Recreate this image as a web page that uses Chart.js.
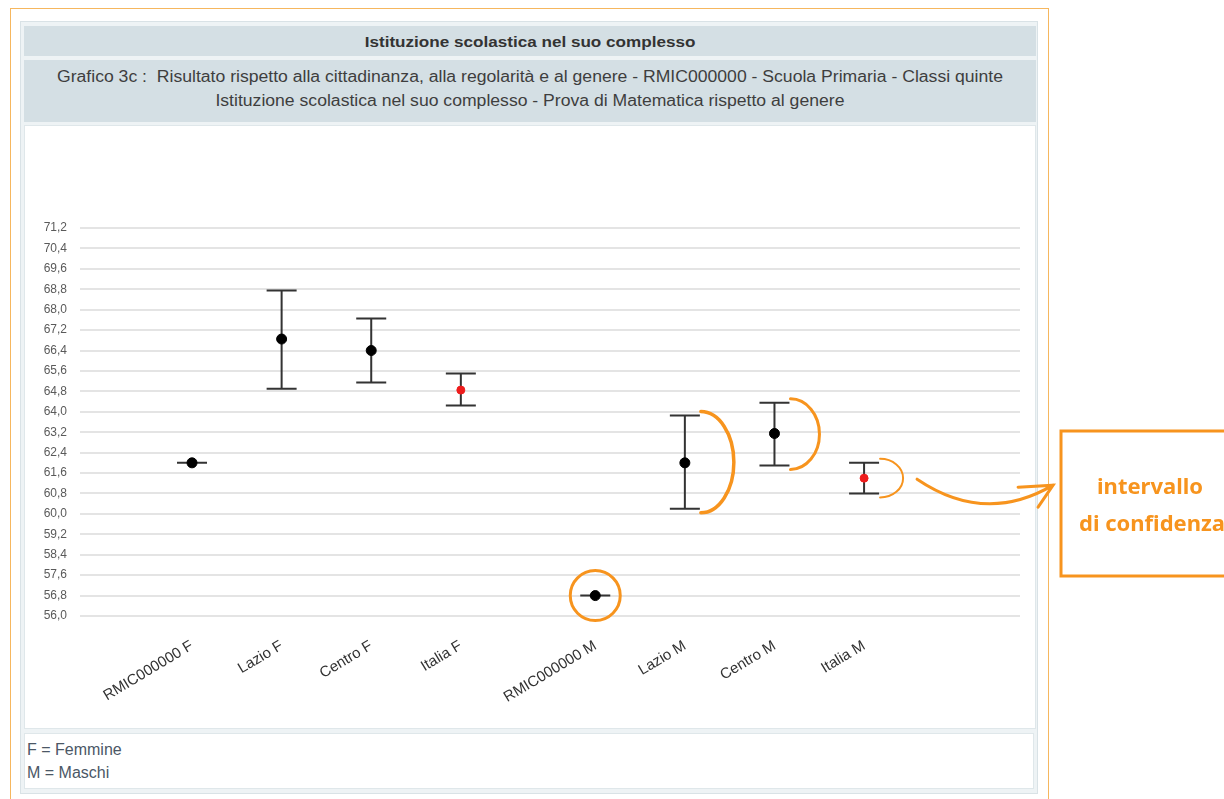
<!DOCTYPE html>
<html>
<head>
<meta charset="utf-8">
<script src="https://cdn.jsdelivr.net/npm/chart.js@4.4.1/dist/chart.umd.min.js"></script>
<style>
  body { margin: 0; background: #fff; font-family: "Liberation Sans", Arial, sans-serif; }
  .frame { position: absolute; left: 10px; top: 8px; width: 1037px; height: 830px; border: 1px solid #f6b75e; }
  .panel { position: absolute; left: 20px; top: 21px; width: 1016px; height: 771px; border: 1px solid #d9e2e6; background: #eef3f5; }
  .head1 { position: absolute; left: 24px; top: 26px; width: 1012px; height: 30px; background: #d4dfe4;
           font-weight: bold; font-size: 15px; color: #333; text-align: center; line-height: 31px; }
  .head2 { position: absolute; left: 24px; top: 60px; width: 1012px; height: 62px; background: #d4dfe4;
           font-size: 16px; color: #3e3e3e; text-align: center; line-height: 24px; padding-top: 5px; box-sizing: border-box; }
  .head1 span, .head2 span { display: inline-block; }
  .head1 span { transform: scaleX(1.14); }
  .head2 span { transform: scaleX(1.1); }
  .plot { position: absolute; left: 24px; top: 125px; width: 1010px; height: 602px; background: #fff; border: 1px solid #dfe7ea; }
  .note { position: absolute; left: 24px; top: 733px; width: 1010px; height: 56px; background: #fff; border: 1px solid #dfe7ea;
          font-size: 16px; color: #4b5766; line-height: 23px; padding: 4px 0 0 2px; box-sizing: border-box; }
  #chart { position: absolute; left: 0; top: 0; }
</style>
</head>
<body>
<div class="frame"></div>
<div class="panel"></div>
<div class="head1"><span>Istituzione scolastica nel suo complesso</span></div>
<div class="head2"><span>Grafico 3c :&nbsp; Risultato rispetto alla cittadinanza, alla regolarità e al genere - RMIC000000 - Scuola Primaria - Classi quinte</span><br><span>Istituzione scolastica nel suo complesso - Prova di Matematica rispetto al genere</span></div>
<div class="plot"></div>
<div class="note">F = Femmine<br>M = Maschi</div>
<canvas id="chart" width="1224" height="799"></canvas>
<script>
// categories and groups (F / M, drawn with a half-step gap between the groups)
const categories = ['RMIC000000 F', 'Lazio F', 'Centro F', 'Italia F', 'RMIC000000 M', 'Lazio M', 'Centro M', 'Italia M'];
const groups = ['F', 'F', 'F', 'F', 'M', 'M', 'M', 'M'];

// mean score and confidence interval
const means = [62.0, 66.85, 66.4, 64.85, 56.8, 62.0, 63.15, 61.4];
const lows  = [62.0, 64.9, 65.15, 64.25, 56.8, 60.2, 61.9, 60.8];
const highs = [62.0, 68.75, 67.65, 65.5, 56.8, 63.85, 64.35, 62.0];

// Italia reference points are drawn in red
const isItaly = categories.map(c => c.startsWith('Italia'));

const yMin = 56.0, yMax = 71.2, yStep = 0.8;

const ORANGE = '#f7941e';
const xPos = categories.map((c, i) => i + (groups[i] === 'M' ? 0.5 : 0));

// vertical error bars with caps
const errorBars = {
  id: 'errorBars',
  beforeDatasetsDraw(chart) {
    const { ctx, scales: { x, y } } = chart;
    ctx.save();
    ctx.strokeStyle = '#333';
    ctx.lineWidth = 2;
    xPos.forEach((v, i) => {
      const px = x.getPixelForValue(v);
      const yh = y.getPixelForValue(highs[i]);
      const yl = y.getPixelForValue(lows[i]);
      ctx.beginPath();
      ctx.moveTo(px, yh); ctx.lineTo(px, yl);
      ctx.moveTo(px - 15, yh); ctx.lineTo(px + 15, yh);
      ctx.moveTo(px - 15, yl); ctx.lineTo(px + 15, yl);
      ctx.stroke();
    });
    ctx.restore();
  }
};

// orange hand-drawn style annotations
const annotations = {
  id: 'annotations',
  afterDraw(chart) {
    const { ctx, scales: { x, y } } = chart;
    ctx.save();
    ctx.strokeStyle = ORANGE;
    ctx.lineCap = 'round';

    // circle on the school M point
    ctx.lineWidth = 3;
    ctx.beginPath();
    ctx.arc(x.getPixelForValue(xPos[4]), y.getPixelForValue(means[4]), 25, 0, Math.PI * 2);
    ctx.stroke();

    // brackets on the right of the intervals
    [[5, 33, 3.5], [6, 29, 3], [7, 23, 2]].forEach(([i, rx, lw]) => {
      const px = x.getPixelForValue(xPos[i]) + 16;
      const yh = y.getPixelForValue(highs[i]) - 4;
      const yl = y.getPixelForValue(lows[i]) + 4;
      ctx.lineWidth = lw;
      ctx.beginPath();
      ctx.ellipse(px, (yh + yl) / 2, rx, (yl - yh) / 2, 0, -Math.PI / 2, Math.PI / 2);
      ctx.stroke();
    });

    // arrow towards the box
    const ax = x.getPixelForValue(xPos[7]) + 53;
    const ay = y.getPixelForValue(means[7]) + 1;
    ctx.lineWidth = 3;
    ctx.beginPath();
    ctx.moveTo(ax, ay);
    ctx.quadraticCurveTo(ax + 68, ay + 46, ax + 136, ay + 6);
    ctx.moveTo(ax + 101, ay + 8);
    ctx.lineTo(ax + 136, ay + 6);
    ctx.lineTo(ax + 121, ay + 28);
    ctx.stroke();

    // box with label
    ctx.lineWidth = 3;
    ctx.strokeRect(1061, 431, 200, 145);
    ctx.fillStyle = ORANGE;
    ctx.font = 'bold 22px "Noto Sans", sans-serif';
    ctx.textAlign = 'center';
    ctx.fillText('intervallo', 1150, 494);
    ctx.fillText('di confidenza', 1152, 531);
    ctx.restore();
  }
};

Chart.defaults.font.family = '"Liberation Sans", Arial, sans-serif';

new Chart(document.getElementById('chart'), {
  type: 'scatter',
  data: {
    datasets: [{
      data: categories.map((c, i) => ({ x: xPos[i], y: means[i] })),
      pointBackgroundColor: isItaly.map(r => r ? '#ee1c1c' : '#000'),
      pointBorderColor: isItaly.map(r => r ? '#ee1c1c' : '#000'),
      pointRadius: isItaly.map(r => r ? 4 : 5),
      showLine: false
    }]
  },
  options: {
    responsive: false,
    animation: false,
    layout: { padding: { left: 30, top: 228, right: 204, bottom: 43 } },
    plugins: { legend: { display: false }, tooltip: { enabled: false } },
    scales: {
      x: {
        type: 'linear',
        min: -1.25,
        max: 9.24,
        afterBuildTicks: scale => { scale.ticks = xPos.map(v => ({ value: v })); },
        afterFit: scale => { scale.height = 140; },
        grid: { display: false },
        border: { display: false },
        ticks: {
          autoSkip: false,
          minRotation: 31,
          maxRotation: 31,
          padding: 13,
          color: '#333',
          font: { size: 15 },
          callback: (v, i) => categories[i]
        }
      },
      y: {
        min: yMin,
        max: yMax,
        afterFit: scale => { scale.width = 50; },
        grid: { color: '#e4e4e4', lineWidth: 2, drawTicks: false },
        border: { display: false },
        ticks: {
          stepSize: yStep,
          padding: 13,
          color: '#5a5a5a',
          font: { size: 12 },
          callback: v => v.toFixed(1).replace('.', ',')
        }
      }
    }
  },
  plugins: [errorBars, annotations]
});
</script>
</body>
</html>
